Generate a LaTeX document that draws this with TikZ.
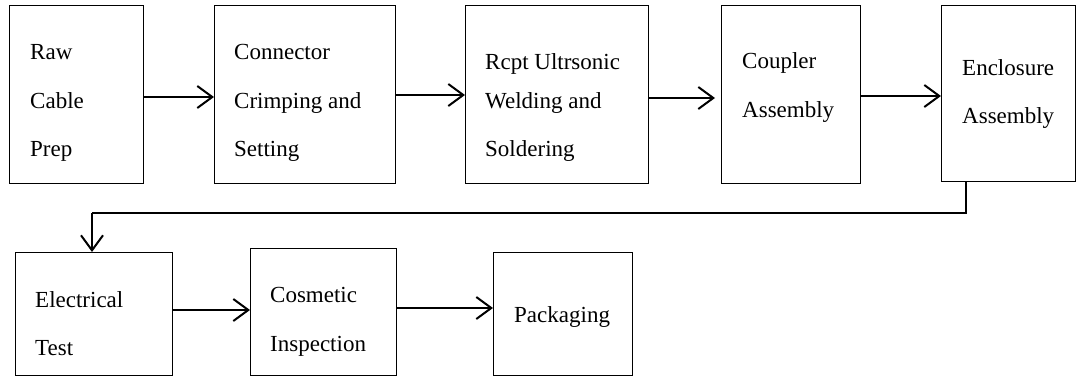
\documentclass[tikz,border=0pt]{standalone}
\usepackage{fontspec}
\setmainfont{Liberation Serif}
\usetikzlibrary{arrows.meta}

\begin{document}
\begin{tikzpicture}[x=1pt,y=1pt,
  box/.style={draw, line width=1pt, anchor=north west, inner sep=0pt, outer sep=0pt},
  lbl/.style={anchor=base west, inner sep=0pt, font=\fontsize{23}{27}\selectfont},
  arr/.style={line width=2pt, -{Straight Barb[length=15pt, width=22pt, line width=2pt]}},
  link/.style={line width=2pt}]
\useasboundingbox (0,0) rectangle (1079,-376);

% first row of process steps
\node[box, minimum width=134, minimum height=178] (b1) at (9,-5) {};
\node[box, minimum width=181, minimum height=178] (b2) at (214,-5) {};
\node[box, minimum width=183, minimum height=178] (b3) at (465,-5) {};
\node[box, minimum width=139, minimum height=178] (b4) at (721,-5) {};
\node[box, minimum width=134, minimum height=176] (b5) at (941,-5) {};

% second row
\node[box, minimum width=157, minimum height=123] (b6) at (15,-252) {};
\node[box, minimum width=146, minimum height=127] (b7) at (250,-248) {};
\node[box, minimum width=139, minimum height=123] (b8) at (493,-252) {};

% step labels
\node[lbl] (t1a) at (30,-59) {Raw};
\node[lbl] (t1b) at (30,-108) {Cable};
\node[lbl] (t1c) at (30,-156) {Prep};
\node[lbl] (t2a) at (234,-59) {Connector};
\node[lbl] (t2b) at (234,-108) {Crimping and};
\node[lbl] (t2c) at (234,-156) {Setting};
\node[lbl] (t3a) at (485,-69) {Rcpt Ultrsonic};
\node[lbl] (t3b) at (485,-108) {Welding and};
\node[lbl] (t3c) at (485,-156) {Soldering};
\node[lbl] (t4a) at (742,-68) {Coupler};
\node[lbl] (t4b) at (742,-117) {Assembly};
\node[lbl] (t5a) at (962,-75) {Enclosure};
\node[lbl] (t5b) at (962,-123) {Assembly};
\node[lbl] (t6a) at (35,-307) {Electrical};
\node[lbl] (t6b) at (35,-355) {Test};
\node[lbl] (t7a) at (270,-302) {Cosmetic};
\node[lbl] (t7b) at (270,-351) {Inspection};
\node[lbl] (t8a) at (514,-322) {Packaging};

% flow arrows
\draw[arr] (b1.east |- 0,-97) -- (b2.west |- 0,-97);
\draw[arr] (b2.east |- 0,-95) -- (b3.west |- 0,-95);
\draw[arr] (b3.east |- 0,-98) -- (715,-98);
\draw[arr] (b4.east |- 0,-96) -- (b5.west |- 0,-96);

% return line from the end of the first row to the second row
\coordinate (r1) at (966,-213);
\coordinate (r2) at (92,-213);
\draw[link] (b5.south -| r1) -- (r1) -- (r2);
\draw[arr] (r2) -- (r2 |- b6.north);

\draw[arr] (b6.east |- 0,-310) -- (b7.west |- 0,-310);
\draw[arr] (b7.east |- 0,-308) -- (b8.west |- 0,-308);
\end{tikzpicture}
\end{document}
